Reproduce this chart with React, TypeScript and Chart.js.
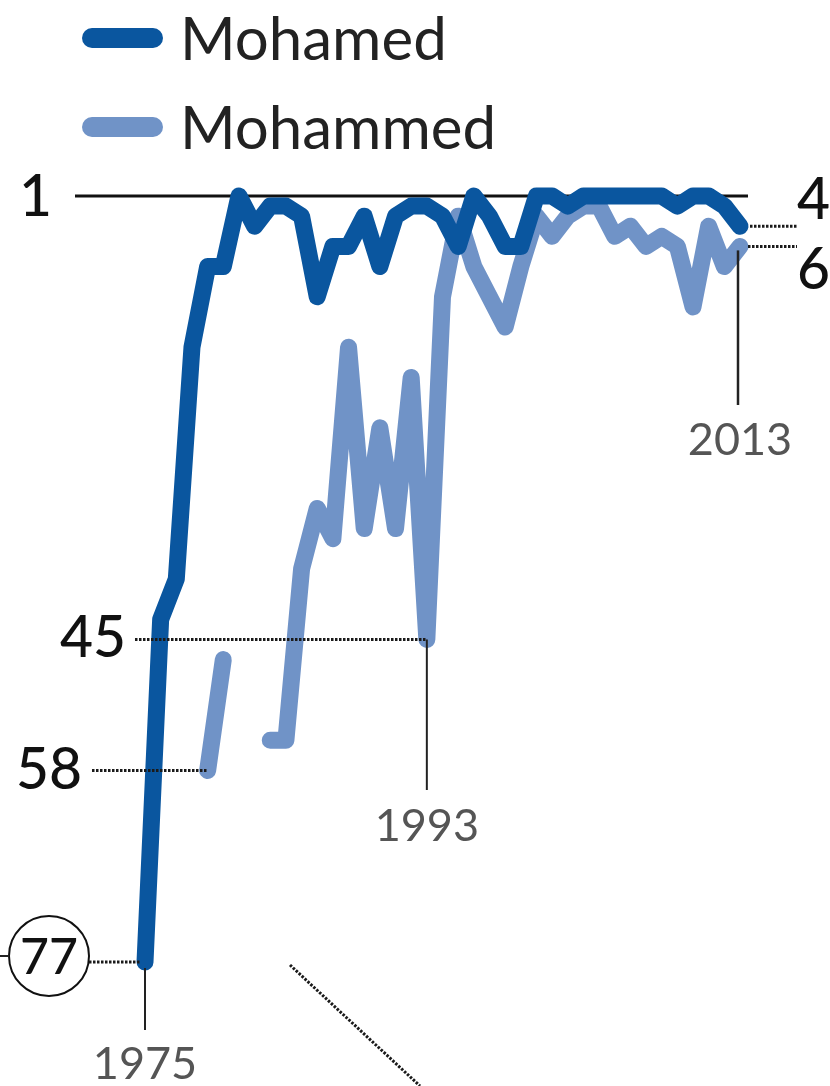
import React, { useEffect, useRef } from "react";
import { Chart, registerables } from "chart.js";

Chart.register(...registerables);

// ---- data ----
const years = [
  1975, 1976, 1977, 1978, 1979, 1980, 1981, 1982, 1983, 1984,
  1985, 1986, 1987, 1988, 1989, 1990, 1991, 1992, 1993, 1994,
  1995, 1996, 1997, 1998, 1999, 2000, 2001, 2002, 2003, 2004,
  2005, 2006, 2007, 2008, 2009, 2010, 2011, 2012, 2013,
];
const mohamedRank: (number | null)[] = [
  77, 43, 39, 16, 8, 8, 1, 4, 2, 2,
  3, 11, 6, 6, 3, 8, 3, 2, 2, 3,
  6, 1, 3, 6, 6, 1, 1, 2, 1, 1,
  1, 1, 1, 1, 2, 1, 1, 2, 4,
];
const mohammedRank: (number | null)[] = [
  null, null, null, null, 58, 47, null, null, 55, 55,
  38, 32, 35, 16, 34, 24, 34, 19, 45, 11,
  3, 8, 11, 14, 8, 3, 5, 3, 2, 2,
  5, 4, 6, 5, 6, 12, 4, 8, 6,
];
const seriesNames = ["Mohamed", "Mohammed"];
const topRank = 1;
const leftRankMarks = [45, 58];
const leftRankMarkYears = [1993, 1979];
const firstRank = 77;
const endRanks = [4, 6];
const yearMarks = [1975, 1993, 2013];

const DARK = "#0a569f";
const LIGHT = "#7093c7";
const FONT = "Lato, 'Open Sans', sans-serif";

const annotations = {
  id: "annotations",
  beforeDatasetsDraw(chart: any) {
    const { ctx } = chart;
    const xs = chart.scales.x;
    const ys = chart.scales.y;
    const y1 = ys.getPixelForValue(topRank);
    ctx.save();
    ctx.strokeStyle = "#111";
    ctx.lineWidth = 3;
    ctx.beginPath();
    ctx.moveTo(75, y1);
    ctx.lineTo(xs.getPixelForValue(years[years.length - 1]) + 8, y1);
    ctx.stroke();
    ctx.restore();
  },
  afterDatasetsDraw(chart: any) {
    const { ctx } = chart;
    const xs = chart.scales.x;
    const ys = chart.scales.y;
    const px = (v: number) => xs.getPixelForValue(v);
    const py = (v: number) => ys.getPixelForValue(v);
    const lastYear = years[years.length - 1];

    const dotted = (x0: number, y0: number, x1: number, y1: number) => {
      ctx.save();
      ctx.strokeStyle = "#1a1a1a";
      ctx.lineWidth = 3;
      ctx.setLineDash([2.5, 1.5]);
      ctx.beginPath();
      ctx.moveTo(x0, y0);
      ctx.lineTo(x1, y1);
      ctx.stroke();
      ctx.restore();
    };
    const solid = (x0: number, y0: number, x1: number, y1: number, w = 2) => {
      ctx.save();
      ctx.strokeStyle = "#222";
      ctx.lineWidth = w;
      ctx.beginPath();
      ctx.moveTo(x0, y0);
      ctx.lineTo(x1, y1);
      ctx.stroke();
      ctx.restore();
    };
    const text = (
      s: string,
      x: number,
      y: number,
      font: string,
      color: string,
      align: CanvasTextAlign,
      base: CanvasTextBaseline
    ) => {
      ctx.save();
      ctx.font = font;
      ctx.fillStyle = color;
      ctx.textAlign = align;
      ctx.textBaseline = base;
      ctx.fillText(s, x, y);
      ctx.restore();
    };

    const bigFont = `500 57px ${FONT}`;
    const yearFont = `400 45px ${FONT}`;
    const yearColor = "#555";

    // rank 1 label
    text(String(topRank), 52, py(topRank) + 2, bigFont, "#111", "right", "middle");

    // left rank marks 45, 58
    dotted(135, py(leftRankMarks[0]), px(leftRankMarkYears[0]), py(leftRankMarks[0]));
    text(String(leftRankMarks[0]), 126, py(leftRankMarks[0]) - 1, bigFont, "#111", "right", "middle");
    dotted(92, py(leftRankMarks[1]), px(leftRankMarkYears[1]), py(leftRankMarks[1]));
    text(String(leftRankMarks[1]), 82, py(leftRankMarks[1]), bigFont, "#111", "right", "middle");

    // first rank 77 in circle
    const cx = 49;
    const cy = py(firstRank) - 6;
    ctx.save();
    ctx.strokeStyle = "#111";
    ctx.lineWidth = 2;
    ctx.beginPath();
    ctx.arc(cx, cy, 40, 0, Math.PI * 2);
    ctx.stroke();
    ctx.restore();
    solid(0, cy, cx - 40, cy, 2);
    text(String(firstRank), cx, cy + 2, `500 50px ${FONT}`, "#111", "center", "middle");
    dotted(cx + 40, py(firstRank), px(years[0]) - 4, py(firstRank));

    // year marks
    const y1975 = py(firstRank);
    solid(px(yearMarks[0]), y1975 + 6, px(yearMarks[0]), y1975 + 68, 2);
    text(String(yearMarks[0]), px(yearMarks[0]), 1064, yearFont, yearColor, "center", "middle");

    const y1993 = py(leftRankMarks[0]);
    solid(px(yearMarks[1]), y1993, px(yearMarks[1]), 790, 2);
    text(String(yearMarks[1]), px(yearMarks[1]), 826, yearFont, yearColor, "center", "middle");

    const y2013 = py(endRanks[1]);
    solid(px(yearMarks[2]) - 2, y2013 + 4, px(yearMarks[2]) - 2, 405, 2.5);
    text(String(yearMarks[2]), px(yearMarks[2]), 440, yearFont, yearColor, "center", "middle");

    // end ranks 4, 6
    dotted(px(lastYear) + 10, py(endRanks[0]), 797, py(endRanks[0]));
    text(String(endRanks[0]), 797, py(endRanks[0]) + 3, bigFont, "#111", "left", "bottom");
    dotted(px(lastYear) + 8, py(endRanks[1]), 797, py(endRanks[1]));
    text(String(endRanks[1]), 797, py(endRanks[1]) - 4, bigFont, "#111", "left", "top");

    // decorative diagonal dotted line
    dotted(290, 965, 420, 1086);

    // legend
    const legend = [
      { name: seriesNames[0], color: DARK, y: 38 },
      { name: seriesNames[1], color: LIGHT, y: 127 },
    ];
    legend.forEach((l) => {
      ctx.save();
      ctx.strokeStyle = l.color;
      ctx.lineWidth = 20;
      ctx.lineCap = "round";
      ctx.beginPath();
      ctx.moveTo(92, l.y);
      ctx.lineTo(153, l.y);
      ctx.stroke();
      ctx.restore();
      text(l.name, 180, l.y + 22, `400 60px ${FONT}`, "#222", "left", "alphabetic");
    });
  },
};

export default function App() {
  const ref = useRef<HTMLCanvasElement | null>(null);

  useEffect(() => {
    document.body.style.margin = "0";
    const canvas = ref.current;
    if (!canvas) return;
    const lineStyle = {
      borderWidth: 17,
      borderCapStyle: "round",
      borderJoinStyle: "round",
      pointRadius: 0,
      tension: 0,
      spanGaps: false,
      clip: false,
    };
    const chart = new Chart(canvas, {
      type: "line",
      data: {
        datasets: [
          {
            label: seriesNames[0],
            data: years.map((y, i) => ({ x: y, y: mohamedRank[i] })),
            borderColor: DARK,
            ...lineStyle,
          },
          {
            label: seriesNames[1],
            data: years.map((y, i) => ({ x: y, y: mohammedRank[i] })),
            borderColor: LIGHT,
            ...lineStyle,
          },
        ],
      } as any,
      options: {
        animation: false,
        responsive: false,
        devicePixelRatio: 1,
        layout: { padding: { left: 145, right: 90, top: 196, bottom: 124 } },
        scales: {
          x: { type: "linear", min: years[0], max: years[years.length - 1], display: false },
          y: { type: "linear", min: 1, max: 77, reverse: true, display: false },
        },
        plugins: {
          legend: { display: false },
          tooltip: { enabled: false },
        },
      } as any,
      plugins: [annotations],
    });
    return () => chart.destroy();
  }, []);

  return (
    <div style={{ width: 830, height: 1086, background: "#fff" }}>
      <canvas ref={ref} width={830} height={1086} style={{ display: "block" }} />
    </div>
  );
}
